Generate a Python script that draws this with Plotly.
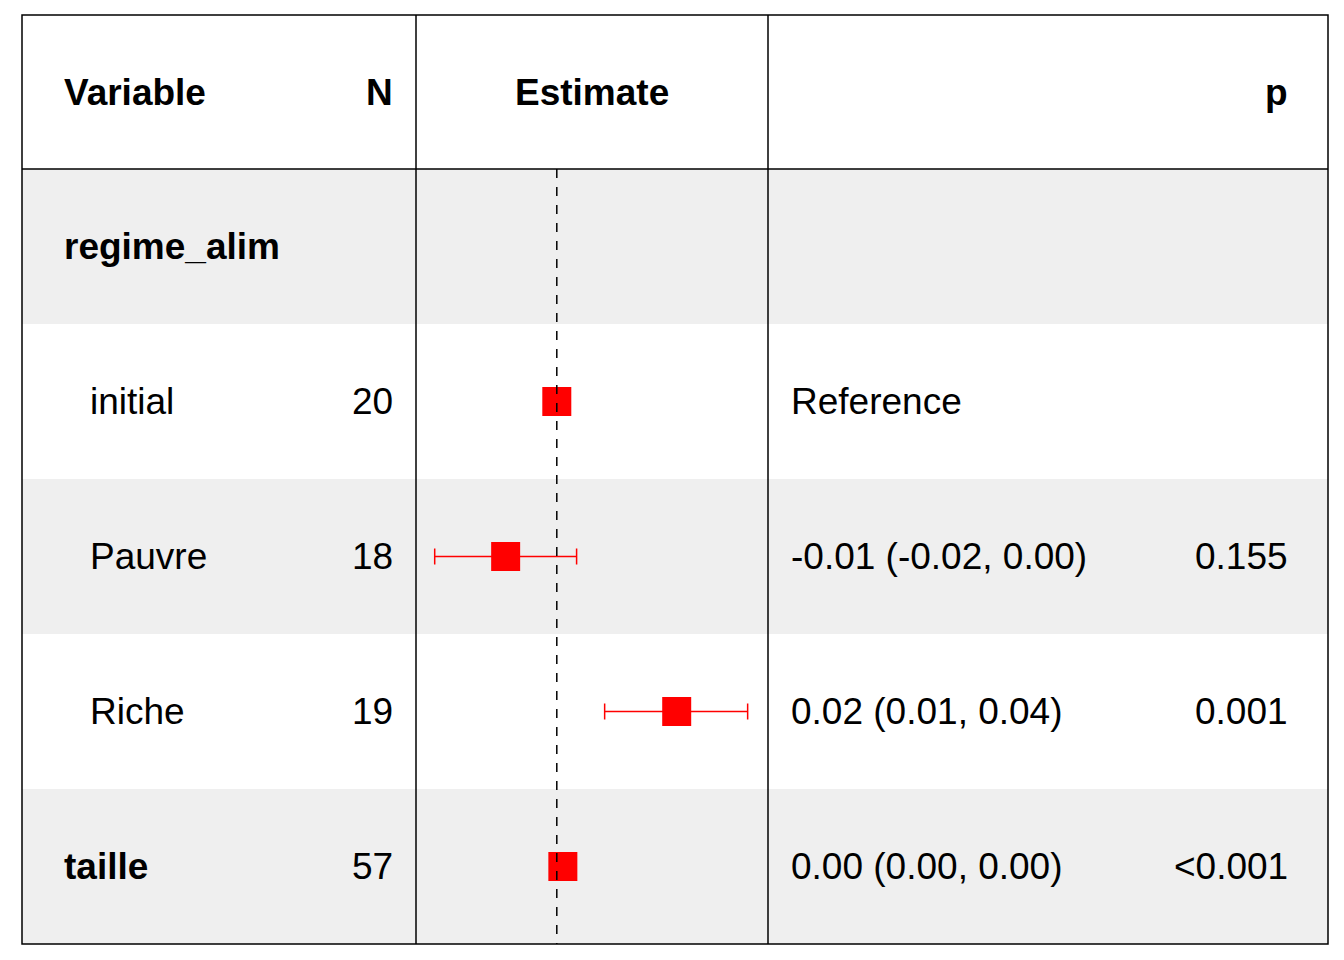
import plotly.graph_objects as go

W, H = 1344, 960
OFF = 8  # page margin offset

labels = ["regime_alim", "initial", "Pauvre", "Riche", "taille"]
bold = [True, False, False, False, True]
indent = [False, True, True, True, False]
n_vals = ["", "20", "18", "19", "57"]
est = [None, 0.0, -0.0093, 0.0218, 0.0011]
lo = [None, None, -0.0222, 0.0087, 0.0010]
hi = [None, None, 0.0036, 0.0347, 0.0012]
ci_text = ["", "Reference", "-0.01 (-0.02, 0.00)", "0.02 (0.01, 0.04)", "0.00 (0.00, 0.00)"]
p_text = ["", "", "0.155", "0.001", "<0.001"]

left, right, top, bottom = 22, 1328, 15, 944
head_h = 154
row_h = (bottom - top - head_h) / len(labels)
c1, c2 = 416, 768

fig = go.Figure()
shapes = []
ann = []
font = dict(family="Liberation Sans, Arial", size=37, color="black")


def px(x):
    return (x - OFF) / W


def py(y):
    return 1 - (y - OFF) / H


# row backgrounds
for i in range(len(labels)):
    y0 = top + head_h + i * row_h
    if i % 2 == 0:
        shapes.append(dict(type="rect", xref="paper", yref="paper", x0=px(left), x1=px(right),
                           y0=py(y0), y1=py(y0 + row_h), fillcolor="#efefef", line_width=0, layer="below"))

# grid lines
line = dict(color="black", width=1.5)
shapes.append(dict(type="rect", xref="paper", yref="paper", x0=px(left), x1=px(right),
                   y0=py(top), y1=py(bottom), line=line))
for x in (c1, c2):
    shapes.append(dict(type="line", xref="paper", yref="paper", x0=px(x), x1=px(x),
                       y0=py(top), y1=py(bottom), line=line))
shapes.append(dict(type="line", xref="paper", yref="paper", x0=px(left), x1=px(right),
                   y0=py(top + head_h), y1=py(top + head_h), line=line))
# zero reference line
shapes.append(dict(type="line", xref="x", yref="paper", x0=0, x1=0,
                   y0=py(top + head_h), y1=py(bottom), line=dict(color="black", width=1.5, dash="dash")))

# header
hy = py(top + head_h / 2)
ann += [
    dict(x=px(62), y=hy, text="<b>Variable</b>", xanchor="left", font=font),
    dict(x=px(395), y=hy, text="<b>N</b>", xanchor="right", font=font),
    dict(x=px(592), y=hy, text="<b>Estimate</b>", xanchor="center", font=font),
    dict(x=px(1290), y=hy, text="<b>p</b>", xanchor="right", font=font),
]

ys = []
for i, lab in enumerate(labels):
    yc = top + head_h + (i + 0.5) * row_h
    ys.append(yc - OFF)
    t = f"<b>{lab}</b>" if bold[i] else lab
    ann.append(dict(x=px(88 if indent[i] else 62), y=py(yc), text=t, xanchor="left", font=font))
    if n_vals[i]:
        ann.append(dict(x=px(395), y=py(yc), text=n_vals[i], xanchor="right", font=font))
    if ci_text[i]:
        ann.append(dict(x=px(789), y=py(yc), text=ci_text[i], xanchor="left", font=font))
    if p_text[i]:
        ann.append(dict(x=px(1290), y=py(yc), text=p_text[i], xanchor="right", font=font))

for a in ann:
    a.update(xref="paper", yref="paper", showarrow=False, yanchor="middle")

pts = [i for i in range(len(labels)) if est[i] is not None]
bars = [i for i in pts if lo[i] is not None and hi[i] - lo[i] > 0.001]
fig.add_trace(go.Scatter(
    x=[est[i] for i in bars], y=[ys[i] for i in bars], mode="markers",
    marker=dict(size=0.1, color="red"),
    error_x=dict(type="data", symmetric=False,
                 array=[hi[i] - est[i] for i in bars],
                 arrayminus=[est[i] - lo[i] for i in bars],
                 color="red", thickness=1.5, width=8),
    showlegend=False, hoverinfo="skip"))
fig.add_trace(go.Scatter(
    x=[est[i] for i in pts], y=[ys[i] for i in pts], mode="markers",
    marker=dict(symbol="square", size=29, color="red"), showlegend=False))

fig.update_layout(
    width=W, height=H, margin=dict(l=0, r=0, t=0, b=0),
    paper_bgcolor="white", plot_bgcolor="rgba(0,0,0,0)",
    shapes=shapes, annotations=ann,
    xaxis=dict(domain=[px(c1), px(c2)], range=[-0.0256, 0.0384], visible=False),
    yaxis=dict(domain=[0, 1], range=[H, 0], visible=False),
)
fig.write_html("out.html")
